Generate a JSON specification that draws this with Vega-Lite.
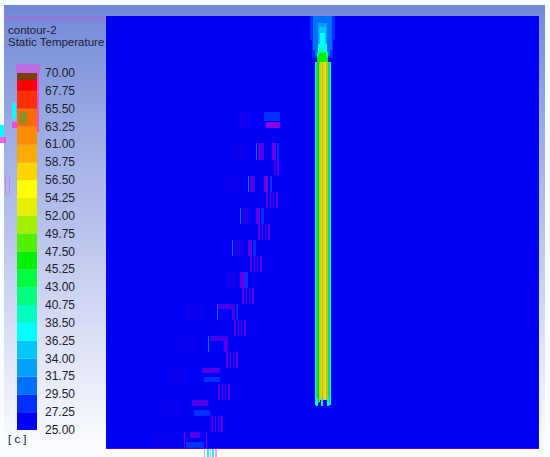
{
"$schema":"https://vega.github.io/schema/vega-lite/v6.json",
"width":550,"height":457,"padding":0,
"autosize":{"type":"fit","contains":"padding"},
"background":"#f8fdff",
"config":{"view":{"stroke":null}},
"resolve":{"scale":{"y":"independent"}},
"datasets":{
"cells":[
{"x":106,"x2":539,"y":16,"y2":449,"temp":25},
{"x":310,"x2":335,"y":16,"y2":40,"temp":28},
{"x":312,"x2":333,"y":16,"y2":58,"temp":28},
{"x":313,"x2":332,"y":16,"y2":50,"temp":30},
{"x":315,"x2":330,"y":18,"y2":56,"temp":31},
{"x":317,"x2":328,"y":20,"y2":58,"temp":31},
{"x":318,"x2":327,"y":23,"y2":58,"temp":33},
{"x":319,"x2":326,"y":27,"y2":58,"temp":35},
{"x":320,"x2":325,"y":33,"y2":50,"temp":37},
{"x":318,"x2":327,"y":44,"y2":58,"temp":38},
{"x":319,"x2":326,"y":47,"y2":58,"temp":40},
{"x":317,"x2":328,"y":52,"y2":62,"temp":42},
{"x":319,"x2":326,"y":53,"y2":62,"temp":46},
{"x":317,"x2":328,"y":57,"y2":64,"temp":47},
{"x":315,"x2":316,"y":62,"y2":405,"temp":38},
{"x":316,"x2":317,"y":62,"y2":405,"temp":41},
{"x":317,"x2":319,"y":62,"y2":403,"temp":47},
{"x":319,"x2":320,"y":62,"y2":402,"temp":50},
{"x":320,"x2":321,"y":62,"y2":400,"temp":57},
{"x":321,"x2":322,"y":62,"y2":400,"temp":54},
{"x":322,"x2":323,"y":62,"y2":402,"temp":50},
{"x":323,"x2":325,"y":62,"y2":400,"temp":52},
{"x":325,"x2":326,"y":62,"y2":400,"temp":56},
{"x":326,"x2":327,"y":62,"y2":400,"temp":59},
{"x":327,"x2":328,"y":62,"y2":402,"temp":50},
{"x":328,"x2":330,"y":62,"y2":405,"temp":44},
{"x":330,"x2":331,"y":62,"y2":405,"temp":38},
{"x":316,"x2":318,"y":398,"y2":406,"temp":37},
{"x":321,"x2":323,"y":398,"y2":406,"temp":37},
{"x":327,"x2":329,"y":398,"y2":406,"temp":37},
{"x":264,"x2":280,"y":112,"y2":121,"temp":28},
{"x":256,"x2":257,"y":143,"y2":160,"temp":30},
{"x":277,"x2":279,"y":143,"y2":160,"temp":29},
{"x":248,"x2":249,"y":176,"y2":192,"temp":30},
{"x":270,"x2":272,"y":176,"y2":192,"temp":29},
{"x":240,"x2":241,"y":208,"y2":224,"temp":30},
{"x":261,"x2":264,"y":208,"y2":224,"temp":28},
{"x":232,"x2":233,"y":240,"y2":256,"temp":30},
{"x":253,"x2":256,"y":240,"y2":256,"temp":28},
{"x":245,"x2":248,"y":272,"y2":288,"temp":28},
{"x":217,"x2":218,"y":304,"y2":320,"temp":30},
{"x":236,"x2":238,"y":304,"y2":320,"temp":28},
{"x":208,"x2":209,"y":336,"y2":352,"temp":30},
{"x":204,"x2":220,"y":377,"y2":382,"temp":28},
{"x":194,"x2":210,"y":410,"y2":416,"temp":28},
{"x":186,"x2":204,"y":442,"y2":448,"temp":28},
{"x":12,"x2":16,"y":103,"y2":119,"temp":37},
{"x":0,"x2":4,"y":125,"y2":137,"temp":37},
{"x":207,"x2":209,"y":449,"y2":457,"temp":37},
{"x":212,"x2":214,"y":449,"y2":457,"temp":37}
],
"purple":[
{"x":315,"x2":331,"y":62,"y2":402,"s":0.1},
{"x":266,"x2":280,"y":122,"y2":128,"s":1},
{"x":258,"x2":264,"y":143,"y2":160,"s":0.6},
{"x":272,"x2":276,"y":143,"y2":160,"s":0.8},
{"x":240,"x2":250,"y":112,"y2":128,"s":0.12},
{"x":232,"x2":245,"y":143,"y2":160,"s":0.08},
{"x":274,"x2":276,"y":160,"y2":175,"s":0.5},
{"x":277,"x2":279,"y":160,"y2":175,"s":0.7},
{"x":250,"x2":255,"y":176,"y2":192,"s":0.6},
{"x":264,"x2":268,"y":176,"y2":192,"s":0.8},
{"x":224,"x2":240,"y":176,"y2":192,"s":0.08},
{"x":266,"x2":268,"y":192,"y2":208,"s":0.6},
{"x":270,"x2":271,"y":192,"y2":208,"s":0.7},
{"x":273,"x2":274,"y":192,"y2":208,"s":0.6},
{"x":276,"x2":278,"y":192,"y2":208,"s":0.7},
{"x":256,"x2":260,"y":208,"y2":224,"s":0.7},
{"x":242,"x2":250,"y":208,"y2":224,"s":0.2},
{"x":258,"x2":260,"y":224,"y2":240,"s":0.6},
{"x":262,"x2":263,"y":224,"y2":240,"s":0.7},
{"x":265,"x2":266,"y":224,"y2":240,"s":0.6},
{"x":268,"x2":270,"y":224,"y2":240,"s":0.7},
{"x":248,"x2":252,"y":240,"y2":256,"s":0.7},
{"x":234,"x2":242,"y":240,"y2":256,"s":0.2},
{"x":250,"x2":252,"y":256,"y2":272,"s":0.6},
{"x":254,"x2":255,"y":256,"y2":272,"s":0.7},
{"x":257,"x2":258,"y":256,"y2":272,"s":0.6},
{"x":260,"x2":262,"y":256,"y2":272,"s":0.7},
{"x":240,"x2":245,"y":272,"y2":288,"s":0.7},
{"x":226,"x2":236,"y":272,"y2":288,"s":0.12},
{"x":242,"x2":244,"y":288,"y2":304,"s":0.6},
{"x":246,"x2":247,"y":288,"y2":304,"s":0.7},
{"x":249,"x2":250,"y":288,"y2":304,"s":0.6},
{"x":252,"x2":254,"y":288,"y2":304,"s":0.7},
{"x":217,"x2":235,"y":304,"y2":309,"s":0.5},
{"x":232,"x2":235,"y":309,"y2":320,"s":0.6},
{"x":186,"x2":205,"y":304,"y2":320,"s":0.07},
{"x":234,"x2":236,"y":320,"y2":336,"s":0.6},
{"x":238,"x2":239,"y":320,"y2":336,"s":0.7},
{"x":241,"x2":242,"y":320,"y2":336,"s":0.6},
{"x":244,"x2":246,"y":320,"y2":336,"s":0.7},
{"x":210,"x2":228,"y":336,"y2":341,"s":0.5},
{"x":224,"x2":228,"y":341,"y2":352,"s":0.6},
{"x":176,"x2":195,"y":336,"y2":352,"s":0.07},
{"x":226,"x2":228,"y":352,"y2":368,"s":0.6},
{"x":230,"x2":231,"y":352,"y2":368,"s":0.7},
{"x":233,"x2":234,"y":352,"y2":368,"s":0.6},
{"x":236,"x2":238,"y":352,"y2":368,"s":0.7},
{"x":202,"x2":220,"y":368,"y2":373,"s":0.6},
{"x":168,"x2":188,"y":368,"y2":384,"s":0.07},
{"x":218,"x2":220,"y":384,"y2":400,"s":0.6},
{"x":222,"x2":223,"y":384,"y2":400,"s":0.7},
{"x":225,"x2":226,"y":384,"y2":400,"s":0.6},
{"x":228,"x2":230,"y":384,"y2":400,"s":0.7},
{"x":192,"x2":208,"y":400,"y2":406,"s":0.6},
{"x":160,"x2":180,"y":400,"y2":416,"s":0.07},
{"x":211,"x2":213,"y":416,"y2":432,"s":0.6},
{"x":215,"x2":216,"y":416,"y2":432,"s":0.7},
{"x":218,"x2":219,"y":416,"y2":432,"s":0.6},
{"x":221,"x2":223,"y":416,"y2":432,"s":0.7},
{"x":184,"x2":185,"y":432,"y2":448,"s":0.8},
{"x":190,"x2":200,"y":432,"y2":438,"s":0.6},
{"x":206,"x2":207,"y":432,"y2":448,"s":0.8},
{"x":153,"x2":176,"y":432,"y2":448,"s":0.07},
{"x":106,"x2":539,"y":448,"y2":449,"s":0.6}
],
"pink":[
{"x":16,"x2":40,"y":64,"y2":73,"s":0.5},
{"x":37,"x2":39,"y":73,"y2":132,"s":0.9},
{"x":12,"x2":17,"y":122,"y2":128,"s":0.9},
{"x":0,"x2":6,"y":137,"y2":143,"s":0.8},
{"x":4,"x2":106,"y":16,"y2":21,"s":0.2},
{"x":5,"x2":6,"y":175,"y2":195,"s":0.4},
{"x":9,"x2":10,"y":175,"y2":195,"s":0.4},
{"x":204,"x2":205,"y":449,"y2":457,"s":0.5},
{"x":210,"x2":211,"y":449,"y2":457,"s":0.5},
{"x":215,"x2":217,"y":449,"y2":457,"s":0.5}
],
"olive":[{"x":19,"x2":27,"y":112,"y2":124}],
"bar":[
{"low":25,"high":27.25},{"low":27.25,"high":29.5},{"low":29.5,"high":31.75},{"low":31.75,"high":34},
{"low":34,"high":36.25},{"low":36.25,"high":38.5},{"low":38.5,"high":40.75},{"low":40.75,"high":43},
{"low":43,"high":45.25},{"low":45.25,"high":47.5},{"low":47.5,"high":49.75},{"low":49.75,"high":52},
{"low":52,"high":54.25},{"low":54.25,"high":56.5},{"low":56.5,"high":58.75},{"low":58.75,"high":61},
{"low":61,"high":63.25},{"low":63.25,"high":65.5},{"low":65.5,"high":67.75},{"low":67.75,"high":70},
{"low":70,"high":69.1}
],
"labels":[
{"t":70},{"t":67.75},{"t":65.5},{"t":63.25},{"t":61},{"t":58.75},{"t":56.5},{"t":54.25},{"t":52},{"t":49.75},
{"t":47.5},{"t":45.25},{"t":43},{"t":40.75},{"t":38.5},{"t":36.25},{"t":34},{"t":31.75},{"t":29.5},{"t":27.25},{"t":25}
],
"titles":[
{"x":8,"y":31,"label":"contour-2"},
{"x":8,"y":43,"label":"Static Temperature"},
{"x":8,"y":440,"label":"[ c ]"}
]
},
"encoding":{},
"layer":[
{"data":{"values":[{"x":4,"x2":545,"y":5,"y2":453}]},
 "mark":{"type":"rect","fill":{"gradient":"linear","x1":0,"y1":0,"x2":0,"y2":1,"stops":[{"offset":0,"color":"#7288d8"},{"offset":0.25,"color":"#98a8e2"},{"offset":0.5,"color":"#b8c2ec"},{"offset":0.75,"color":"#dde1f6"},{"offset":1,"color":"#fcfdff"}]}},
 "encoding":{"x":{"field":"x","type":"quantitative","axis":null,"scale":{"domain":[0,550],"nice":false,"zero":false}},"x2":{"field":"x2"},
 "y":{"field":"y","type":"quantitative","axis":null,"scale":{"domain":[457,0],"nice":false,"zero":false}},"y2":{"field":"y2"}}},
{"data":{"name":"cells"},
 "mark":{"type":"rect"},
 "encoding":{"x":{"field":"x","type":"quantitative","axis":null,"scale":{"domain":[0,550],"nice":false,"zero":false}},"x2":{"field":"x2"},
 "y":{"field":"y","type":"quantitative","axis":null,"scale":{"domain":[457,0],"nice":false,"zero":false}},"y2":{"field":"y2"},
 "color":{"field":"temp","type":"quantitative","legend":null,"scale":{"type":"threshold","domain":[27.25,29.5,31.75,34,36.25,38.5,40.75,43,45.25,47.5,49.75,52,54.25,56.5,58.75,61,63.25,65.5,67.75,70],
 "range":["#0000f4","#0030ff","#0070ff","#00a0ff","#00c8ff","#00ffff","#00ffc0","#00ff80","#00ff40","#00f000","#50f000","#a0f000","#e4f000","#ffff00","#ffd400","#ffaa00","#ff8c00","#ff6a00","#ff3000","#ff0000","#7c3c0c"]}}}},
{"data":{"name":"purple"},
 "mark":{"type":"rect","fill":"#8a00e0"},
 "encoding":{"x":{"field":"x","type":"quantitative","axis":null,"scale":{"domain":[0,550],"nice":false,"zero":false}},"x2":{"field":"x2"},
 "y":{"field":"y","type":"quantitative","axis":null,"scale":{"domain":[457,0],"nice":false,"zero":false}},"y2":{"field":"y2"},
 "opacity":{"field":"s","type":"quantitative","legend":null,"scale":{"domain":[0,1],"range":[0,1]}}}},
{"data":{"name":"bar"},
 "mark":{"type":"rect"},
 "encoding":{"x":{"datum":17,"type":"quantitative","axis":null,"scale":{"domain":[0,550],"nice":false,"zero":false}},"x2":{"datum":37},
 "y":{"field":"low","type":"quantitative","axis":null,"scale":{"domain":[25,70],"range":[430,73],"nice":false,"zero":false}},"y2":{"field":"high"},
 "color":{"field":"low","type":"quantitative","legend":null,"scale":{"type":"threshold","domain":[27.25,29.5,31.75,34,36.25,38.5,40.75,43,45.25,47.5,49.75,52,54.25,56.5,58.75,61,63.25,65.5,67.75,70],
 "range":["#0000f4","#0030ff","#0070ff","#00a0ff","#00c8ff","#00ffff","#00ffc0","#00ff80","#00ff40","#00f000","#50f000","#a0f000","#e4f000","#ffff00","#ffd400","#ffaa00","#ff8c00","#ff6a00","#ff3000","#ff0000","#7c3c0c"]}}}},
{"data":{"name":"olive"},
 "mark":{"type":"rect","fill":"#8f9020"},
 "encoding":{"x":{"field":"x","type":"quantitative","axis":null,"scale":{"domain":[0,550],"nice":false,"zero":false}},"x2":{"field":"x2"},
 "y":{"field":"y","type":"quantitative","axis":null,"scale":{"domain":[457,0],"nice":false,"zero":false}},"y2":{"field":"y2"}}},
{"data":{"name":"pink"},
 "mark":{"type":"rect","fill":"#f040e0"},
 "encoding":{"x":{"field":"x","type":"quantitative","axis":null,"scale":{"domain":[0,550],"nice":false,"zero":false}},"x2":{"field":"x2"},
 "y":{"field":"y","type":"quantitative","axis":null,"scale":{"domain":[457,0],"nice":false,"zero":false}},"y2":{"field":"y2"},
 "opacity":{"field":"s","type":"quantitative","legend":null,"scale":{"domain":[0,1],"range":[0,1]}}}},
{"data":{"name":"labels"},
 "mark":{"type":"text","font":"Liberation Sans","fontSize":12,"align":"left","baseline":"middle","fill":"#1c2030"},
 "encoding":{"x":{"datum":45,"type":"quantitative","axis":null,"scale":{"domain":[0,550],"nice":false,"zero":false}},
 "y":{"field":"t","type":"quantitative","axis":null,"scale":{"domain":[25,70],"range":[430,73],"nice":false,"zero":false}},
 "text":{"field":"t","type":"quantitative","format":".2f"}}},
{"data":{"name":"titles"},
 "mark":{"type":"text","font":"Liberation Sans","fontSize":11.5,"align":"left","baseline":"middle","fill":"#1c2030"},
 "encoding":{"x":{"field":"x","type":"quantitative","axis":null,"scale":{"domain":[0,550],"nice":false,"zero":false}},
 "y":{"field":"y","type":"quantitative","axis":null,"scale":{"domain":[457,0],"nice":false,"zero":false}},
 "text":{"field":"label"}}}
]
}
